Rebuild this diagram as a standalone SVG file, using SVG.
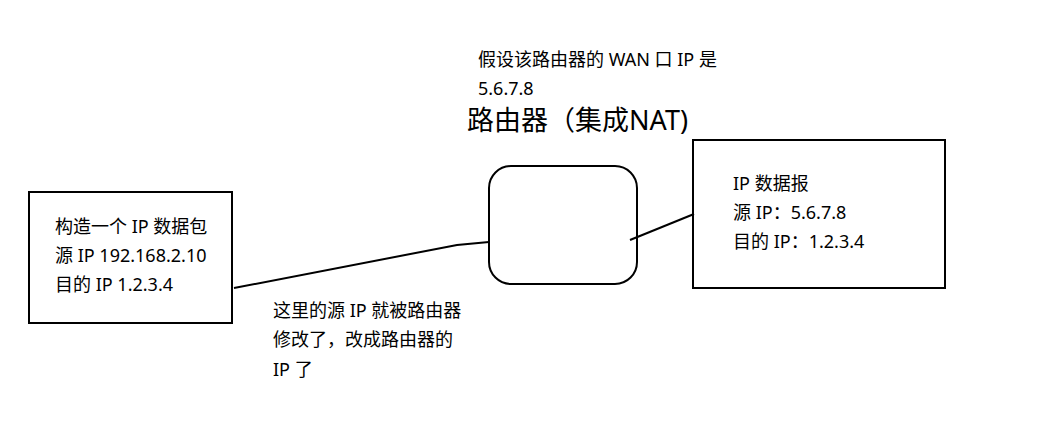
<svg xmlns="http://www.w3.org/2000/svg" width="1041" height="439" viewBox="0 0 1041 439">
<style>
.box{fill:#fff;stroke:#000;stroke-width:2}
.t{font-family:"Noto Sans","Noto Sans CJK SC",sans-serif;font-size:18px;fill:#000}
.title{font-family:"Noto Sans","Noto Sans CJK SC",sans-serif;font-size:27px;fill:#000}
.c{fill:none;stroke:#000;stroke-width:2}
</style>
<rect width="1041" height="439" fill="#fff"/>
<g id="left-packet">
<rect class="box" x="29" y="192" width="203" height="131"/>
<text class="t" x="55" y="233">构造一个 IP 数据包</text>
<text class="t" x="55" y="262">源 IP 192.168.2.10</text>
<text class="t" x="55" y="291">目的 IP 1.2.3.4</text>
</g>
<g id="router">
<rect class="box" x="489" y="166" width="148" height="118" rx="22" ry="22"/>
<text class="title" x="467" y="130">路由器（集成NAT)</text>
</g>
<g id="wan-note">
<text class="t" x="478" y="66">假设该路由器的 WAN 口 IP 是</text>
<text class="t" x="478" y="95">5.6.7.8</text>
</g>
<g id="right-packet">
<rect class="box" x="693" y="140" width="252" height="148"/>
<text class="t" x="733" y="190">IP 数据报</text>
<text class="t" x="733" y="219">源 IP：5.6.7.8</text>
<text class="t" x="733" y="248">目的 IP：1.2.3.4</text>
</g>
<g id="change-note">
<text class="t" x="273" y="317">这里的源 IP 就被路由器</text>
<text class="t" x="273" y="346">修改了，改成路由器的</text>
<text class="t" x="273" y="376">IP 了</text>
</g>
<g id="connectors">
<polyline class="c" points="234,288 457,245 489,242"/>
<line class="c" x1="630" y1="240" x2="694" y2="214"/>
</g>
</svg>
